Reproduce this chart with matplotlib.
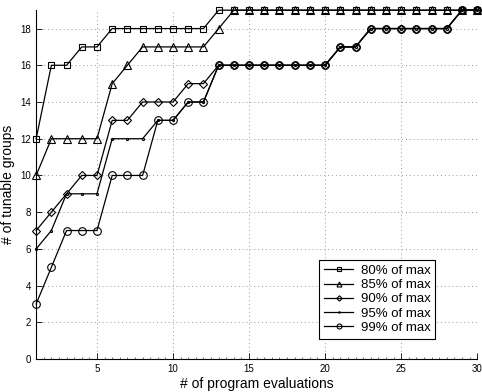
from matplotlib import pyplot as plt
from matplotlib.ticker import MultipleLocator

# data
evals = list(range(1, 31))
p80 = [12, 16, 16, 17, 17, 18, 18, 18, 18, 18, 18, 18] + [19] * 18
p85 = [10, 12, 12, 12, 12, 15, 16, 17, 17, 17, 17, 17, 18] + [19] * 17
p90 = [7, 8, 9, 10, 10, 13, 13, 14, 14, 14, 15, 15,
       16, 16, 16, 16, 16, 16, 16, 16, 17, 17, 18, 18, 18, 18, 18, 18, 19, 19]
p95 = [6, 7, 9, 9, 9, 12, 12, 12, 13, 13, 14, 14,
       16, 16, 16, 16, 16, 16, 16, 16, 17, 17, 18, 18, 18, 18, 18, 18, 19, 19]
p99 = [3, 5, 7, 7, 7, 10, 10, 10, 13, 13, 14, 14,
       16, 16, 16, 16, 16, 16, 16, 16, 17, 17, 18, 18, 18, 18, 18, 18, 19, 19]
labels = ['80% of max', '85% of max', '90% of max', '95% of max', '99% of max']
markers = ['s', '^', 'D', '.', 'o']
msizes = [4.2, 5.5, 4.2, 3, 5.5]

plt.rcParams['font.family'] = ['Liberation Sans', 'DejaVu Sans']

fig = plt.figure(figsize=(4.82, 3.92), dpi=100)
ax = fig.add_axes([0.075, 0.084, 0.915, 0.89])

series = [p80, p85, p90, p95, p99]
for ys, lab, m, ms in zip(series, labels, markers, msizes):
    ax.plot(evals, ys, '-', color='k', lw=0.9, marker=m, ms=ms,
            mfc='none', mec='k', mew=0.8, label=lab, clip_on=False, zorder=3)

ax.set_xlim(1, 30)
ax.set_ylim(0, 19)
ax.set_xticks([5, 10, 15, 20, 25, 30])
ax.set_yticks(range(0, 19, 2))
ax.xaxis.set_minor_locator(MultipleLocator(0.5))
ax.tick_params(direction='in', labelsize=7, length=4, width=0.6)
ax.tick_params(which='minor', direction='in', length=1.5, width=0.4)
ax.grid(True, color='#999999', lw=0.7, dashes=(1, 3))
ax.spines['top'].set_visible(False)
ax.spines['right'].set_visible(False)
ax.spines['left'].set_linewidth(0.8)
ax.spines['bottom'].set_linewidth(0.8)

ax.set_xlabel('# of program evaluations', fontsize=10, labelpad=2)
ax.set_ylabel('# of tunable groups', fontsize=10, labelpad=4)

leg = ax.legend(loc='lower right', bbox_to_anchor=(0.92, 0.04), fontsize=9.5,
                fancybox=False, framealpha=1, edgecolor='k', handlelength=2.2,
                borderpad=0.35, labelspacing=0.15, handletextpad=0.6,
                markerscale=0.65)
leg.get_frame().set_linewidth(0.8)

fig.savefig('out.png', dpi=100)
